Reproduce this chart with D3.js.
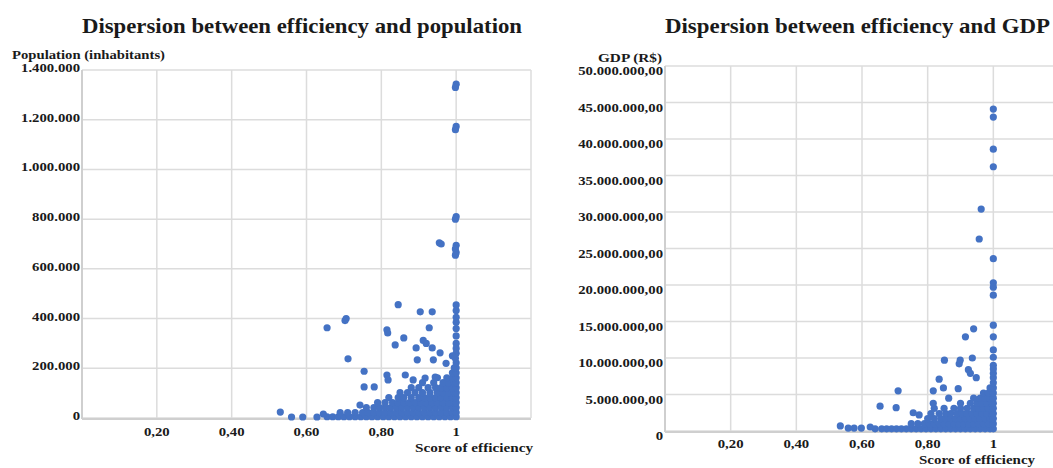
<!DOCTYPE html>
<html>
<head>
<meta charset="utf-8">
<script src="https://cdn.jsdelivr.net/npm/d3@7"></script>
<style>
  body { margin: 0; background: #fff; }
  text { font-family: "Liberation Serif", "DejaVu Serif", serif; font-weight: bold; fill: #1a1a1a; }
</style>
</head>
<body>
<svg id="chart" width="1053" height="468"></svg>
<script>
// ---- data ----
const effTicks = [0.2, 0.4, 0.6, 0.8, 1];
const effGrid = [0, 0.2, 0.4, 0.6, 0.8, 1, 1.2];
const popTicks = [0, 200000, 400000, 600000, 800000, 1000000, 1200000, 1400000];
const gdpTicks = [0, 5000000, 10000000, 15000000, 20000000, 25000000, 30000000, 35000000, 40000000, 45000000, 50000000];

// isolated municipalities [efficiency, population]
const popOutliers = [
  [1, 1343000], [0.998, 1330000], [1, 1173000], [0.998, 1160000], [1, 810000], [0.998, 800000],
  [0.955, 705000], [0.96, 700000], [1, 695000], [0.998, 680000], [1, 665000], [0.998, 655000],
  [0.845, 456000], [0.904, 427000], [0.936, 427000], [1, 455000], [1, 432000], [1, 405000], [1, 385000],
  [0.655, 363000], [0.706, 400000], [0.703, 392000], [0.815, 355000], [0.817, 342000], [0.86, 322000],
  [0.837, 294000], [0.928, 363000], [0.912, 312000], [0.92, 300000], [0.893, 282000], [0.936, 282000],
  [0.957, 262000], [0.896, 234000], [0.939, 234000], [0.973, 220000], [0.711, 238000], [0.754, 188000],
  [0.754, 125000], [0.781, 125000], [0.815, 173000], [0.818, 153000], [0.864, 173000], [0.885, 153000],
  [0.917, 161000], [0.944, 165000], [0.743, 52000], [0.53, 24000], [0.56, 4000], [0.59, 4000],
  [0.628, 4000], [0.645, 16000], [1, 360000], [1, 330000], [1, 300000], [1, 280000], [1, 260000],
  [0.99, 250000], [0.998, 240000]
];
// dense part of the cloud: [population, [efficiencies...]]
const popDense = [
  [5000, [0.655, 0.67, 0.685, 0.7, 0.715, 0.73, 0.745, 0.76, 0.775, 0.79, 0.805, 0.82, 0.835, 0.85, 0.865, 0.88, 0.895, 0.91, 0.925, 0.94, 0.955, 0.97, 0.985, 1]],
  [22000, [0.69, 0.71, 0.73, 0.75, 0.765, 0.78, 0.795, 0.81, 0.825, 0.84, 0.855, 0.87, 0.885, 0.9, 0.915, 0.93, 0.945, 0.96, 0.975, 0.99, 1]],
  [42000, [0.76, 0.78, 0.795, 0.81, 0.825, 0.84, 0.855, 0.87, 0.885, 0.9, 0.915, 0.93, 0.945, 0.96, 0.975, 0.99, 1]],
  [62000, [0.79, 0.81, 0.83, 0.845, 0.86, 0.875, 0.89, 0.905, 0.92, 0.935, 0.95, 0.965, 0.98, 0.995, 1]],
  [82000, [0.82, 0.845, 0.86, 0.88, 0.9, 0.915, 0.93, 0.945, 0.96, 0.975, 0.99, 1]],
  [102000, [0.85, 0.87, 0.89, 0.91, 0.93, 0.95, 0.965, 0.98, 0.995, 1]],
  [122000, [0.88, 0.9, 0.925, 0.945, 0.96, 0.975, 0.99, 1]],
  [142000, [0.91, 0.94, 0.965, 0.98, 0.995, 1]],
  [162000, [0.95, 0.975, 0.99, 1]],
  [182000, [0.99, 1]],
  [202000, [0.995, 1]],
  [222000, [1]]
];

// isolated municipalities [efficiency, GDP]
const gdpOutliers = [
  [1, 44100000], [1, 43000000], [1, 38600000], [1, 36200000], [0.963, 30400000], [0.957, 26300000],
  [1, 23600000], [1, 20300000], [1, 19700000], [1, 18600000], [1, 14500000], [0.94, 14000000],
  [0.915, 12900000], [1, 12900000], [1, 11100000], [1, 10100000], [0.851, 9700000], [0.899, 9700000],
  [0.896, 9200000], [0.936, 10000000], [0.924, 8400000], [0.93, 7900000], [0.948, 7300000], [1, 7900000],
  [0.835, 7100000], [0.848, 5900000], [0.817, 5500000], [0.893, 5800000], [0.71, 5500000], [0.864, 4500000],
  [0.655, 3400000], [0.704, 3200000], [0.817, 3800000], [0.756, 2500000], [0.774, 2200000], [0.534, 700000],
  [0.558, 400000], [0.576, 400000], [0.598, 400000], [0.625, 550000], [1, 9000000], [1, 8500000]
];
// dense part of the cloud: [GDP, [efficiencies...]]
const gdpDense = [
  [300000, [0.64, 0.66, 0.675, 0.69, 0.705, 0.72, 0.735, 0.75, 0.765, 0.78, 0.795, 0.81, 0.825, 0.84, 0.855, 0.87, 0.885, 0.9, 0.915, 0.93, 0.945, 0.96, 0.975, 0.99, 1]],
  [1000000, [0.75, 0.77, 0.79, 0.805, 0.82, 0.835, 0.85, 0.865, 0.88, 0.895, 0.91, 0.925, 0.94, 0.955, 0.97, 0.985, 1]],
  [1700000, [0.8, 0.82, 0.84, 0.855, 0.87, 0.885, 0.9, 0.915, 0.93, 0.945, 0.96, 0.975, 0.99, 1]],
  [2400000, [0.81, 0.835, 0.855, 0.87, 0.89, 0.905, 0.92, 0.935, 0.95, 0.965, 0.98, 0.995, 1]],
  [3100000, [0.82, 0.85, 0.88, 0.9, 0.92, 0.94, 0.955, 0.97, 0.985, 1]],
  [3800000, [0.9, 0.93, 0.95, 0.965, 0.98, 0.995, 1]],
  [4500000, [0.94, 0.96, 0.975, 0.99, 1]],
  [5200000, [0.97, 0.985, 1]],
  [5900000, [0.99, 1]],
  [6600000, [1]],
  [7300000, [1]]
];

// ---- drawing ----
const BLUE = "#4472C4";
const ptBR = d3.formatLocale({ decimal: ",", thousands: ".", grouping: [3], currency: ["R$", ""] });
const fmtPop = ptBR.format(",.0f");
const fmtGdp = ptBR.format(",.2f");
const fmtEff = v => v === 1 ? "1" : ptBR.format(".2f")(v);

const svg = d3.select("#chart");

// the source image is a bit stretched sideways, so widen the glyphs
function stretch(sel, factor) {
  sel.each(function () {
    const w = this.getComputedTextLength();
    d3.select(this).attr("textLength", w * factor).attr("lengthAdjust", "spacingAndGlyphs");
  });
}

function drawPanel(cfg) {
  const x = d3.scaleLinear().domain([0, 1.2]).range([cfg.left, cfg.right]);
  const y = d3.scaleLinear().domain([0, cfg.max]).range([cfg.bottom, cfg.top]);
  const g = svg.append("g");

  // grid
  g.append("g").selectAll("line").data(cfg.yTicks).enter().append("line")
    .attr("x1", cfg.left).attr("x2", cfg.right)
    .attr("y1", d => y(d)).attr("y2", d => y(d))
    .attr("stroke", "#dcdcdc").attr("stroke-width", 1.5);
  g.append("g").selectAll("line").data(effGrid).enter().append("line")
    .attr("x1", d => x(d)).attr("x2", d => x(d))
    .attr("y1", cfg.top).attr("y2", cfg.bottom)
    .attr("stroke", "#dcdcdc").attr("stroke-width", 1.5);
  // axis lines
  g.append("line").attr("x1", cfg.left).attr("x2", cfg.left).attr("y1", cfg.top).attr("y2", cfg.bottom + 1)
    .attr("stroke", "#cfcfcf").attr("stroke-width", 2);
  g.append("line").attr("x1", cfg.left).attr("x2", cfg.right).attr("y1", cfg.bottom + 1).attr("y2", cfg.bottom + 1)
    .attr("stroke", "#cfcfcf").attr("stroke-width", 2);

  // y axis labels
  g.append("g").selectAll("text").data(cfg.yTicks).enter().append("text")
    .attr("x", cfg.left - 2).attr("y", d => y(d) + cfg.yLabelDy)
    .attr("text-anchor", "end").attr("font-size", "12.5px")
    .text(d => d === 0 ? "0" : cfg.fmt(d))
    .call(stretch, 1.18);
  // x axis labels
  g.append("g").selectAll("text").data(effTicks).enter().append("text")
    .attr("x", d => x(d)).attr("y", cfg.bottom + cfg.xLabelDy)
    .attr("text-anchor", "middle").attr("font-size", "12.5px")
    .text(fmtEff)
    .call(stretch, 1.18);

  // points
  const pts = [];
  cfg.dense.forEach(([v, effs]) => effs.forEach(e => pts.push([e, v])));
  cfg.outliers.forEach(p => pts.push(p));
  g.append("g").selectAll("circle").data(pts).enter().append("circle")
    .attr("cx", d => x(d[0])).attr("cy", d => y(d[1]))
    .attr("r", 3.6).attr("fill", BLUE);

  // titles
  svg.append("text").attr("x", cfg.titleX).attr("y", 33).attr("font-size", "21px")
    .attr("textLength", cfg.titleW).attr("lengthAdjust", "spacingAndGlyphs").text(cfg.title);
  svg.append("text").attr("x", cfg.yTitleX).attr("y", cfg.yTitleY).attr("font-size", "11.5px")
    .attr("text-anchor", cfg.yTitleAnchor)
    .attr("textLength", cfg.yTitleW).attr("lengthAdjust", "spacingAndGlyphs").text(cfg.yTitle);
  svg.append("text").attr("x", cfg.xTitleX).attr("y", cfg.xTitleY).attr("font-size", "12.5px")
    .attr("textLength", cfg.xTitleW).attr("lengthAdjust", "spacingAndGlyphs")
    .text("Score of efficiency");
}

drawPanel({
  left: 82, right: 531, top: 70, bottom: 418, max: 1400000,
  yTicks: popTicks, fmt: fmtPop, yLabelDy: 2, xLabelDy: 18,
  dense: popDense, outliers: popOutliers,
  title: "Dispersion between efficiency and population", titleX: 82, titleW: 440,
  yTitle: "Population (inhabitants)", yTitleX: 12, yTitleY: 59, yTitleAnchor: "start", yTitleW: 153,
  xTitleX: 415, xTitleY: 452, xTitleW: 118
});

drawPanel({
  left: 665, right: 1059, top: 66, bottom: 431, max: 50000000,
  yTicks: gdpTicks, fmt: fmtGdp, yLabelDy: 9, xLabelDy: 17,
  dense: gdpDense, outliers: gdpOutliers,
  title: "Dispersion between efficiency and GDP", titleX: 665, titleW: 385,
  yTitle: "GDP (R$)", yTitleX: 662, yTitleY: 62, yTitleAnchor: "end", yTitleW: 64,
  xTitleX: 919, xTitleY: 464, xTitleW: 116
});
</script>
</body>
</html>
